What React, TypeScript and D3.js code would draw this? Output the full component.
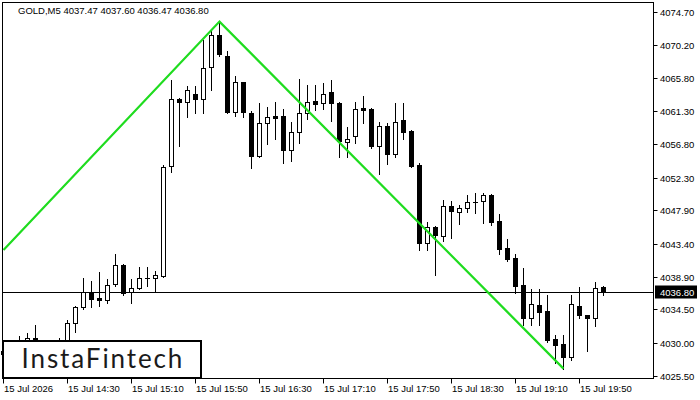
import React from "react";
import * as d3 from "d3";

const symbolHeader = "GOLD,M5  4037.47 4037.60 4036.47 4036.80";

const opens = [
  4028.5, 4028.9, 4029.4, 4030.1, 4030.7, 4030.2, 4029.0, 4029.6, 4030.0, 4032.7,
  4034.8, 4036.9, 4036.0, 4035.8, 4037.9, 4040.5, 4036.8, 4037.4, 4038.8, 4038.8,
  4039.0, 4053.9, 4062.9, 4062.5, 4063.6, 4062.9, 4067.2, 4071.6, 4068.8, 4061.2,
  4065.2, 4061.1, 4055.2, 4059.7, 4060.6, 4060.6, 4056.0, 4058.5, 4061.0, 4062.7,
  4062.4, 4063.9, 4062.4, 4057.1, 4057.9, 4061.7, 4061.6, 4056.6, 4059.3, 4055.5,
  4060.1, 4058.6, 4054.0, 4043.5, 4045.6, 4044.4, 4048.5, 4047.7, 4048.2, 4049.0,
  4049.1, 4050.0, 4046.4, 4042.8, 4041.4, 4037.8, 4033.4, 4035.1, 4034.3, 4030.5,
  4029.8, 4028.1, 4035.0, 4033.7, 4033.4, 4037.47,
];
const highs = [
  4029.4, 4029.8, 4030.9, 4031.3, 4032.4, 4030.1, 4030.0, 4030.7, 4033.1, 4035.0,
  4038.8, 4038.3, 4039.6, 4038.6, 4042.0, 4040.6, 4038.6, 4040.2, 4040.2, 4039.7,
  4054.0, 4065.5, 4063.1, 4064.7, 4064.7, 4070.9, 4072.3, 4073.4, 4069.4, 4066.0,
  4065.3, 4061.3, 4062.4, 4061.9, 4062.5, 4061.6, 4059.8, 4065.7, 4064.8, 4064.8,
  4065.1, 4065.5, 4062.6, 4059.1, 4062.6, 4063.3, 4061.7, 4059.8, 4059.7, 4062.4,
  4062.4, 4058.7, 4054.3, 4046.3, 4045.8, 4049.3, 4049.2, 4048.6, 4050.0, 4050.2,
  4050.2, 4050.1, 4047.4, 4044.0, 4042.0, 4040.1, 4037.2, 4037.2, 4036.5, 4031.0,
  4031.1, 4036.5, 4037.5, 4033.8, 4038.2, 4037.6,
];
const lows = [
  4027.6, 4028.2, 4028.8, 4029.5, 4029.6, 4028.4, 4028.2, 4028.9, 4029.5, 4031.4,
  4034.6, 4034.8, 4035.0, 4035.3, 4037.7, 4036.5, 4035.3, 4037.3, 4037.6, 4036.9,
  4038.9, 4053.1, 4056.6, 4060.5, 4061.0, 4061.0, 4064.2, 4068.8, 4061.1, 4060.6,
  4060.5, 4053.6, 4055.1, 4056.8, 4057.5, 4054.3, 4054.6, 4057.0, 4060.3, 4061.5,
  4061.6, 4060.0, 4055.1, 4055.1, 4057.0, 4059.7, 4056.3, 4052.8, 4054.1, 4055.1,
  4057.6, 4053.7, 4042.5, 4042.5, 4039.1, 4043.8, 4044.2, 4046.0, 4047.7, 4047.5,
  4046.2, 4045.9, 4042.0, 4041.0, 4036.7, 4032.4, 4032.4, 4032.4, 4030.1, 4027.2,
  4026.5, 4027.7, 4033.3, 4028.9, 4032.3, 4036.47,
];
const closes = [
  4028.9, 4029.4, 4030.1, 4030.7, 4030.2, 4029.0, 4029.6, 4030.0, 4032.6, 4034.8,
  4036.9, 4035.9, 4035.8, 4037.8, 4040.5, 4036.7, 4037.4, 4038.7, 4038.7, 4039.2,
  4053.8, 4063.0, 4062.5, 4064.1, 4062.9, 4067.1, 4071.6, 4069.0, 4061.2, 4065.2,
  4061.2, 4055.3, 4059.7, 4060.5, 4060.4, 4056.0, 4058.5, 4061.0, 4062.5, 4062.3,
  4063.6, 4062.4, 4057.2, 4057.6, 4061.6, 4061.4, 4056.6, 4059.3, 4055.5, 4059.8,
  4058.5, 4053.9, 4043.5, 4045.6, 4044.5, 4048.5, 4047.8, 4048.2, 4049.0, 4049.05,
  4050.0, 4046.3, 4042.7, 4041.3, 4037.7, 4033.3, 4035.2, 4034.2, 4030.3, 4029.7,
  4028.1, 4035.2, 4033.7, 4033.3, 4037.4, 4036.8,
];

const priceTicks = [
  "4074.70", "4070.20", "4065.80", "4061.30", "4056.80", "4052.30",
  "4047.90", "4043.40", "4038.90", "4034.50", "4030.00", "4025.50",
];
const timeTickBars = [0, 8, 16, 24, 32, 40, 48, 56, 64, 72];
const timeTickLabels = [
  "15 Jul 2026", "15 Jul 14:30", "15 Jul 15:10", "15 Jul 15:50", "15 Jul 16:30",
  "15 Jul 17:10", "15 Jul 17:50", "15 Jul 18:30", "15 Jul 19:10", "15 Jul 19:50",
];
const patternBars = [0, 27, 70];
const patternPrices = [4042.53, 4073.4, 4026.5];
const currentPrice = 4036.8;
const currentPriceLabel = "4036.80";
const logoText = "InstaFintech";

const W = 700;
const H = 400;
const frameL = 2.5;
const frameT = 2.5;
const frameR = 653.5;
const frameB = 378.5;
const font = "'Liberation Sans', Arial, sans-serif";
const fs = 9.5;

export default function App() {
  const x = d3.scaleLinear().domain([0, 75]).range([3.5, 603.5]);
  const y = d3.scaleLinear().domain([4025.5, 4074.7]).range([376, 12]);
  const snap = (v: number) => Math.round(v) + 0.5;

  const candles = opens.map((o, i) => {
    const c = closes[i];
    const h = highs[i];
    const l = lows[i];
    const cx = x(i);
    const top = snap(y(Math.max(o, c)));
    const bot = snap(y(Math.min(o, c)));
    const bull = c >= o;
    return (
      <g key={i}>
        <line x1={cx} x2={cx} y1={snap(y(h)) - 0.5} y2={snap(y(l)) + 0.5} stroke="#000" strokeWidth={1} />
        {bot - top < 1 ? (
          <line x1={cx - 2.5} x2={cx + 2.5} y1={top} y2={top} stroke="#000" strokeWidth={1} />
        ) : (
          <rect x={cx - 2} y={top} width={4} height={bot - top} fill={bull ? "#fff" : "#000"} stroke="#000" strokeWidth={1} />
        )}
      </g>
    );
  });

  const patternLine = d3
    .line<number>()
    .x((d) => x(d))
    .y((_, i) => y(patternPrices[i]))(patternBars) as string;

  const py = snap(y(currentPrice));

  return (
    <svg width={W} height={H} style={{ position: "absolute", left: 0, top: 0, background: "#fff" }} fontFamily={font}>
      <rect x={0} y={0} width={W} height={H} fill="#fff" />
      <text x={18} y={13.5} fontSize={fs} fill="#000">{symbolHeader}</text>
      <line x1={frameL} x2={frameR} y1={py} y2={py} stroke="#000" strokeWidth={1} />
      {candles}
      <path d={patternLine} fill="none" stroke="#1fdc1f" strokeWidth={2.2} />
      <rect x={frameL} y={frameT} width={frameR - frameL} height={frameB - frameT} fill="none" stroke="#000" strokeWidth={1} />
      {priceTicks.map((t) => {
        const ty = snap(y(parseFloat(t)));
        return (
          <g key={t}>
            <line x1={frameR} x2={frameR + 4} y1={ty} y2={ty} stroke="#000" />
            <text x={660} y={ty} dy="0.35em" fontSize={fs} fill="#000">{t}</text>
          </g>
        );
      })}
      <rect x={655} y={py - 7} width={42} height={13} fill="#000" />
      <text x={660} y={py} dy="0.35em" fontSize={fs} fill="#fff">{currentPriceLabel}</text>
      {timeTickBars.map((b, i) => (
        <g key={b}>
          <line x1={x(b)} x2={x(b)} y1={frameB} y2={frameB + 5} stroke="#000" />
          <text x={x(b) + 0.5} y={392} fontSize={fs} fill="#000">{timeTickLabels[i]}</text>
        </g>
      ))}
      <rect x={3} y={341} width={198} height={37} fill="#fff" stroke="#000" strokeWidth={2} />
      <text x={21.5} y={367.5} fontSize={26} fontFamily="Lato, 'Open Sans', sans-serif" fontWeight={400} letterSpacing={1.9} fill="#1a1a1a">{logoText}</text>
    </svg>
  );
}
